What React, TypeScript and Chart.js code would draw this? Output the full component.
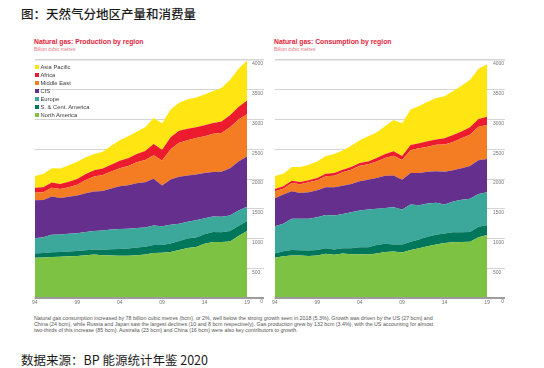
import React, { useEffect, useRef } from 'react';
import { Chart, registerables } from 'chart.js';

Chart.register(...registerables);

// ---- Data (billion cubic metres) ----
const years = [
  '1994', '1995', '1996', '1997', '1998', '1999', '2000', '2001', '2002', '2003', '2004', '2005', '2006',
  '2007', '2008', '2009', '2010', '2011', '2012', '2013', '2014', '2015', '2016', '2017', '2018', '2019',
];
const labelledYears = ['1994', '1999', '2004', '2009', '2014', '2019'];
const yTickValues = [0, 500, 1000, 1500, 2000, 2500, 3000, 3500, 4000];

const seriesNames = ['North America', 'S. & Cent. America', 'Europe', 'CIS', 'Middle East', 'Africa', 'Asia Pacific'];
const seriesColors = ['#7dc243', '#00775b', '#3ca89c', '#652f8e', '#f47c22', '#ec1c2e', '#ffe512'];

// Production by region
const prodNorthAmerica = [676, 682, 690, 693, 700, 704, 718, 730, 720, 716, 712, 708, 718, 730, 758, 760, 775, 805, 840, 856, 910, 943, 940, 950, 1040, 1124];
const prodSCAmerica = [73, 76, 80, 82, 82, 86, 84, 85, 92, 102, 113, 124, 132, 132, 132, 130, 140, 155, 160, 159, 160, 167, 165, 175, 170, 171];
const prodEurope = [257, 262, 295, 293, 296, 300, 306, 310, 323, 332, 335, 333, 325, 323, 330, 315, 315, 290, 280, 290, 270, 260, 260, 263, 260, 238];
const prodCIS = [636, 628, 640, 612, 622, 632, 654, 665, 665, 690, 720, 730, 755, 760, 785, 685, 760, 788, 780, 770, 760, 748, 757, 794, 825, 844];
const prodMiddleEast = [128, 130, 150, 150, 162, 183, 223, 250, 268, 285, 300, 325, 350, 375, 395, 420, 510, 572, 590, 615, 620, 642, 653, 688, 705, 711];
const prodAfrica = [84, 85, 87, 87, 90, 95, 100, 105, 110, 115, 125, 130, 140, 150, 190, 180, 200, 200, 195, 180, 185, 180, 190, 200, 210, 232];
const prodAsiaPacific = [196, 221, 238, 261, 280, 290, 280, 275, 282, 320, 345, 370, 375, 400, 435, 445, 470, 470, 495, 500, 515, 540, 565, 600, 642, 670];

// Consumption by region
const consNorthAmerica = [678, 700, 715, 715, 706, 715, 745, 726, 749, 737, 737, 730, 750, 775, 780, 765, 805, 838, 870, 900, 925, 937, 940, 945, 1020, 1060];
const consSCAmerica = [72, 85, 90, 88, 93, 90, 93, 90, 89, 101, 118, 125, 140, 136, 120, 135, 139, 145, 158, 163, 160, 168, 165, 165, 178, 162];
const consEurope = [457, 465, 525, 527, 534, 553, 559, 569, 575, 603, 614, 631, 610, 603, 625, 586, 626, 576, 559, 537, 487, 517, 545, 560, 552, 554];
const consCIS = [469, 488, 463, 435, 444, 452, 463, 475, 475, 475, 492, 503, 517, 542, 535, 503, 531, 542, 533, 530, 548, 526, 532, 548, 566, 560];
const consMiddleEast = [117, 100, 140, 146, 167, 168, 185, 196, 224, 241, 263, 257, 279, 296, 330, 331, 386, 415, 423, 447, 458, 472, 502, 527, 563, 572];
const consAfrica = [40, 39, 39, 39, 34, 39, 45, 45, 44, 44, 44, 50, 56, 68, 75, 67, 84, 84, 92, 88, 106, 120, 116, 125, 131, 139];
const consAsiaPacific = [217, 213, 229, 251, 262, 279, 295, 319, 324, 359, 382, 424, 428, 470, 525, 549, 599, 627, 665, 695, 708, 740, 766, 797, 842, 883];

const productionSeries = [prodNorthAmerica, prodSCAmerica, prodEurope, prodCIS, prodMiddleEast, prodAfrica, prodAsiaPacific];
const consumptionSeries = [consNorthAmerica, consSCAmerica, consEurope, consCIS, consMiddleEast, consAfrica, consAsiaPacific];

const paragraphLines = [
  'Natural gas consumption increased by 78 billion cubic metres (bcm), or 2%, well below the strong growth seen in 2018 (5.3%). Growth was driven by the US (27 bcm) and',
  'China (24 bcm), while Russia and Japan saw the largest declines (10 and 8 bcm respectively). Gas production grew by 132 bcm (3.4%), with the US accounting for almost',
  'two-thirds of this increase (85 bcm). Australia (23 bcm) and China (16 bcm) were also key contributors to growth.',
];

const SANS = '"Liberation Sans", Arial, sans-serif';
const CJK = '"Noto Sans CJK SC", sans-serif';

type AreaProps = {
  series: number[][];
  left: number;
  top: number;
  width: number;
  height: number;
  padLeft: number;
  padTop: number;
  yAxisW: number;
  xAxisH: number;
  tickLen: number;
  labelPad: number;
};

function StackedArea(p: AreaProps) {
  const ref = useRef<HTMLCanvasElement | null>(null);
  useEffect(() => {
    if (!ref.current) return;
    const baseline = {
      id: 'baseline',
      afterDatasetsDraw(chart: any) {
        const { ctx, chartArea } = chart;
        const y = Math.round(chart.scales.y.getPixelForValue(0));
        ctx.save();
        ctx.strokeStyle = '#9c9c9c';
        ctx.lineWidth = 2;
        ctx.beginPath();
        ctx.moveTo(chartArea.left, y);
        ctx.lineTo(chartArea.right + p.tickLen, y);
        ctx.stroke();
        ctx.restore();
      },
    };
    const chart = new Chart(ref.current, {
      type: 'line',
      data: {
        labels: years,
        datasets: p.series.map((vals, i) => ({
          label: seriesNames[i],
          data: vals,
          backgroundColor: seriesColors[i],
          borderColor: seriesColors[i],
          borderWidth: 0,
          pointRadius: 0,
          tension: 0,
          fill: i === 0 ? 'origin' : '-1',
        })),
      },
      options: {
        animation: false,
        responsive: false,
        devicePixelRatio: 1,
        layout: { padding: { left: p.padLeft, top: p.padTop, right: 0, bottom: 0 } },
        plugins: { legend: { display: false }, tooltip: { enabled: false } },
        scales: {
          x: {
            type: 'category',
            offset: false,
            grid: { display: false, drawTicks: false },
            border: { display: false },
            ticks: {
              autoSkip: false,
              maxRotation: 0,
              minRotation: 0,
              padding: 2,
              color: '#777',
              font: { size: 5, family: SANS },
              callback: (_v: any, i: number) =>
                labelledYears.includes(years[i]) ? years[i].slice(2) : '',
            },
            afterFit: (s: any) => {
              s.height = p.xAxisH;
            },
          },
          y: {
            position: 'right',
            stacked: true,
            min: yTickValues[0],
            max: yTickValues[yTickValues.length - 1],
            border: { display: false },
            afterBuildTicks: (s: any) => {
              s.ticks = yTickValues.map((v) => ({ value: v }));
            },
            grid: {
              color: (c: any) => (c.tick && c.tick.value === 0 ? '#9c9c9c' : '#d4d4d4'),
              lineWidth: (c: any) =>
                c.tick && c.tick.value === 0 ? 2 : c.tick && c.tick.value === 4000 ? 1.5 : 1,
              drawTicks: true,
              tickLength: p.tickLen,
            },
            ticks: {
              padding: p.labelPad,
              labelOffset: 4,
              color: '#777',
              font: { size: 5, family: SANS },
              callback: (v: any) => (v === 0 ? '\u2007\u2007\u20070' : String(v)),
            },
            afterFit: (s: any) => {
              s.width = p.yAxisW;
            },
          },
        },
      } as any,
      plugins: [baseline],
    });
    return () => chart.destroy();
  }, []);
  return (
    <canvas
      ref={ref}
      width={p.width}
      height={p.height}
      style={{ position: 'absolute', left: p.left, top: p.top, width: p.width, height: p.height }}
    />
  );
}

function Title({ x, text, sub }: { x: number; text: string; sub: string }) {
  return (
    <>
      <div
        style={{
          position: 'absolute', left: x, top: 37.5, fontFamily: SANS, fontWeight: 'bold', fontSize: 6.8,
          lineHeight: '7px', color: '#e3243b', whiteSpace: 'nowrap',
        }}
      >
        {text}
      </div>
      <div
        style={{
          position: 'absolute', left: x, top: 46.5, fontFamily: SANS, fontSize: 4.8,
          lineHeight: '5px', color: '#e9707f', whiteSpace: 'nowrap',
        }}
      >
        {sub}
      </div>
    </>
  );
}

export default function App() {
  const legendOrder = [6, 5, 4, 3, 2, 1, 0];
  return (
    <div
      style={{
        position: 'fixed', left: 0, top: 0, width: 544, height: 368, background: '#fff', overflow: 'hidden',
      }}
    >
      <div
        style={{
          position: 'absolute', left: 21, top: 6, fontFamily: CJK, fontSize: 12.5, fontWeight: 500,
          lineHeight: '16px', color: '#1a1a1a', whiteSpace: 'nowrap',
        }}
      >
        图：天然气分地区产量和消费量
      </div>

      <Title x={34} text="Natural gas: Production by region" sub="Billion cubic metres" />
      <Title x={274} text="Natural gas: Consumption by region" sub="Billion cubic metres" />

      <StackedArea
        series={productionSeries}
        left={30} top={54} width={240} height={256}
        padLeft={4} padTop={6} yAxisW={23} xAxisH={12} tickLen={17} labelPad={-12}
      />
      <StackedArea
        series={consumptionSeries}
        left={270} top={54} width={240} height={256}
        padLeft={4} padTop={6} yAxisW={23} xAxisH={12} tickLen={18} labelPad={-12}
      />

      {legendOrder.map((si, k) => (
        <div key={si} style={{ position: 'absolute', left: 34, top: 63.5 + k * 8.1, height: 6, whiteSpace: 'nowrap' }}>
          <div style={{ position: 'absolute', left: 0.5, top: 1, width: 4, height: 4, background: seriesColors[si] }} />
          <div
            style={{
              position: 'absolute', left: 6.5, top: 0, fontFamily: SANS, fontSize: 5.8, lineHeight: '6px', color: '#3a3a3a',
            }}
          >
            {seriesNames[si]}
          </div>
        </div>
      ))}

      <div
        style={{
          position: 'absolute', left: 34, top: 315, fontFamily: SANS, fontSize: 5.3, lineHeight: '6px', color: '#555',
          whiteSpace: 'nowrap',
        }}
      >
        {paragraphLines.map((l, i) => (
          <div key={i}>{l}</div>
        ))}
      </div>

      <div
        style={{
          position: 'absolute', left: 21, top: 352, fontFamily: CJK, fontSize: 12.5, fontWeight: 400,
          lineHeight: '16px', color: '#1a1a1a', whiteSpace: 'nowrap',
        }}
      >
        数据来源：BP 能源统计年鉴 2020
      </div>
    </div>
  );
}
